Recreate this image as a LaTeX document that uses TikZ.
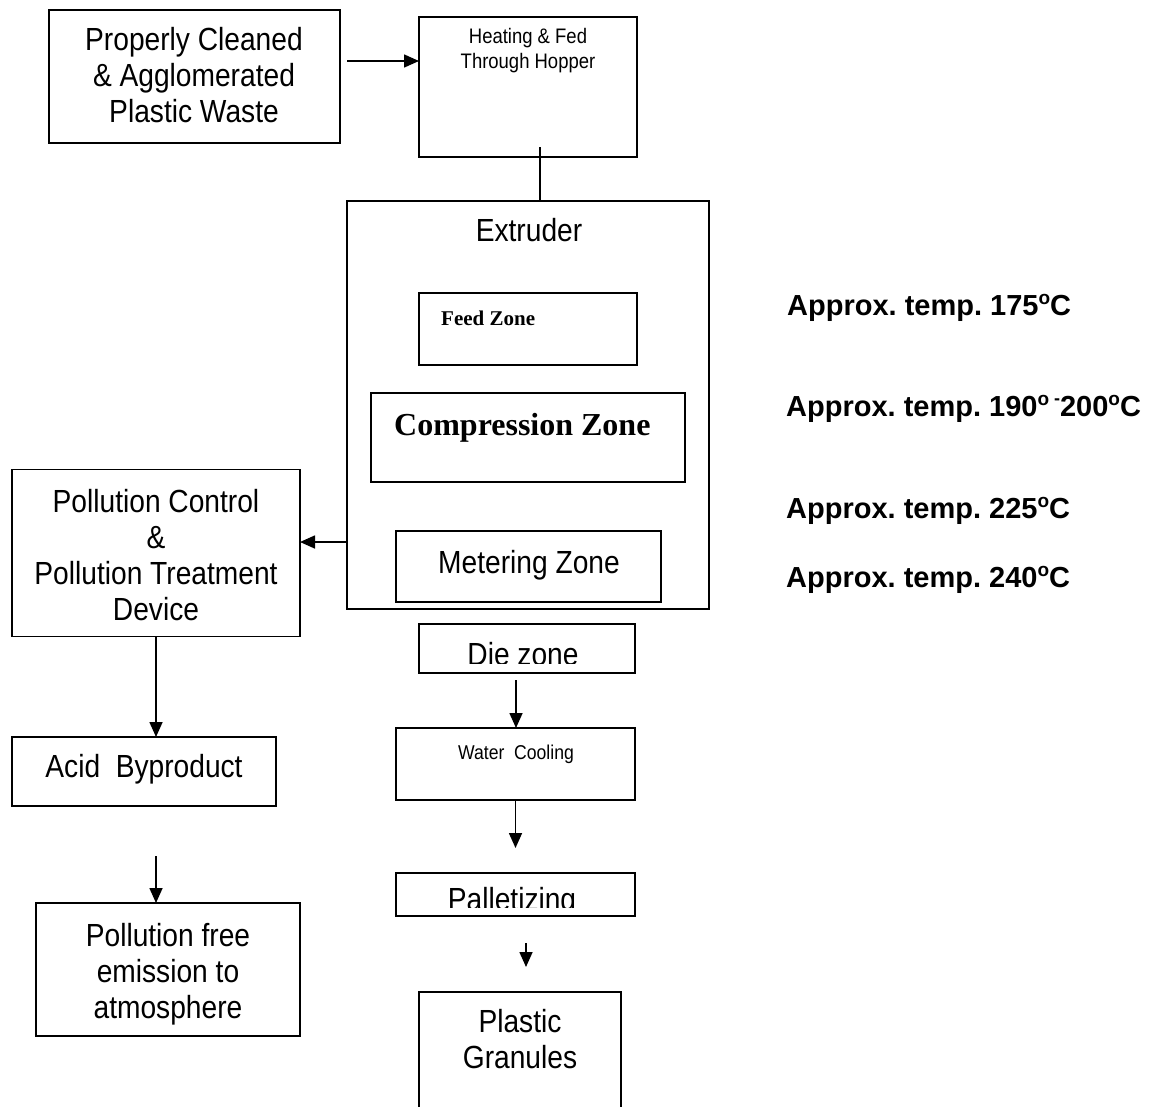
\documentclass[tikz,border=0pt]{standalone}
\usepackage{fontspec}
\setmainfont{Liberation Sans}
\newfontfamily\narrowfont[FakeStretch=0.88]{Liberation Sans}
\newfontfamily\timesfont{Liberation Serif}
\usetikzlibrary{arrows.meta}
\newcommand{\mlines}[1]{\begin{tabular}[t]{@{}c@{}}#1\end{tabular}}
\newcommand{\supo}{\raisebox{10.5pt}{\fontsize{19}{19}\selectfont o}}
\newcommand{\supdash}{\raisebox{12pt}{\fontsize{18}{18}\selectfont -}}
\frenchspacing
\begin{document}
\begin{tikzpicture}[x=1pt,y=-1pt,
  box/.style={draw, line width=1.8pt, rectangle, inner sep=0pt, outer sep=0pt},
  boxline/.style={line width=1.8pt},
  conn/.style={line width=1.6pt},
  arr/.style={line width=1.6pt, -{Triangle[length=15pt,width=13pt]}},
  bigtxt/.style={font=\narrowfont\fontsize{32}{36}\selectfont, inner sep=0pt, anchor=base},
  smalltxt/.style={font=\narrowfont\fontsize{21}{25}\selectfont, inner sep=0pt, anchor=base},
  temptxt/.style={font=\bfseries\fontsize{29}{32}\selectfont, inner sep=0pt, anchor=base west},
  serifbold/.style={font=\timesfont\bfseries, inner sep=0pt, anchor=base west}
]
\useasboundingbox (0,0) rectangle (1151,1106);

% boxes
\node[box, minimum width=291, minimum height=133] (waste) at (194.5,76.5) {};
\node[box, minimum width=218, minimum height=140] (hopper) at (528,87) {};
\node[box, minimum width=362, minimum height=408] (extruder) at (528,405) {};
\node[box, minimum width=218, minimum height=72] (feed) at (528,329) {};
\node[box, minimum width=314, minimum height=89] (comp) at (528,437.5) {};
\node[box, minimum width=265, minimum height=71] (meter) at (528.5,566.5) {};
\node[box, minimum width=216, minimum height=49] (die) at (527,648.5) {};
\node[box, minimum width=239, minimum height=72] (water) at (515.5,764) {};
\node[box, minimum width=239, minimum height=43] (pallet) at (515.5,894.5) {};
\node[draw=none, inner sep=0pt, outer sep=0pt, minimum width=202, minimum height=130] (granules) at (520,1057) {};
\draw[boxline] (granules.south west) -- (granules.north west) -- (granules.north east) -- (granules.south east);
\node[box, minimum width=288, minimum height=167] (pollution) at (156,553) {};
\node[box, minimum width=264, minimum height=69] (acid) at (144,771.5) {};
\node[box, minimum width=264, minimum height=133] (free) at (168,969.5) {};

% texts
\node[bigtxt] (wastetxt) at (194,50) {\mlines{Properly Cleaned\\\& Agglomerated\\Plastic Waste}};
\node[smalltxt] (hoppertxt) at (528,43) {\mlines{Heating \& Fed\\Through Hopper}};
\node[bigtxt] (extrudertxt) at (529,241) {Extruder};
\node[serifbold, font=\timesfont\bfseries\fontsize{21}{24}\selectfont] (feedtxt) at (441,325) {Feed Zone};
\node[serifbold, font=\timesfont\bfseries\fontsize{32}{36}\selectfont] (comptxt) at (394,435) {Compression Zone};
\node[bigtxt] (metertxt) at (529,573) {Metering Zone};
\begin{scope}
  \clip (die.north west) rectangle ([yshift=10pt]die.south east);
  \node[bigtxt] (dietxt) at (523,665) {Die zone};
\end{scope}
\node[smalltxt, font=\narrowfont\fontsize{20}{24}\selectfont] (watertxt) at (516,759) {Water\ \ Cooling};
\begin{scope}
  \clip (pallet.north west) rectangle ([yshift=9pt]pallet.south east);
  \node[bigtxt] (pallettxt) at (512,910) {Palletizing};
\end{scope}
\node[bigtxt] (granulestxt) at (520,1032) {\mlines{Plastic\\Granules}};
\node[bigtxt] (pollutiontxt) at (156,512) {\mlines{Pollution Control\\\&\\Pollution Treatment\\Device}};
\node[bigtxt] (acidtxt) at (144,777) {Acid\ \ Byproduct};
\node[bigtxt] (freetxt) at (168,946) {\mlines{Pollution free\\emission to\\atmosphere}};

% temperature labels
\node[temptxt] (t1) at (787,315) {Approx. temp. 175\supo C};
\node[temptxt] (t2) at (786,416) {Approx. temp. 190\supo\,\supdash200\supo C};
\node[temptxt] (t3) at (786,518) {Approx. temp. 225\supo C};
\node[temptxt] (t4) at (786,587) {Approx. temp. 240\supo C};

% connectors
\coordinate (w1) at ([shift={(7,-15.5)}]waste.east);
\draw[arr] (w1) -- (w1 -| hopper.west);
\coordinate (h1) at ([shift={(12,-10)}]hopper.south);
\draw[conn] (h1) -- (h1 |- extruder.north);
\coordinate (e1) at ([shift={(0,137)}]extruder.west);
\draw[arr] (e1) -- (e1 -| pollution.east);
\draw[arr] (pollution.south) -- (pollution.south |- acid.north);
\coordinate (f1) at ([shift={(12,50)}]acid.south);
\draw[arr] (f1) -- (f1 |- free.north);
\coordinate (d1) at ([shift={(-11,7)}]die.south);
\draw[arr] (d1) -- (d1 |- water.north);
\coordinate (p1) at ([shift={(0,48)}]water.south);
\draw[arr] (water.south) -- (p1);
\coordinate (g1) at ([shift={(10.5,27)}]pallet.south);
\path (g1 |- granules.north) ++(0,-25) coordinate (g2);
\draw[arr] (g1) -- (g2);
\end{tikzpicture}
\end{document}
